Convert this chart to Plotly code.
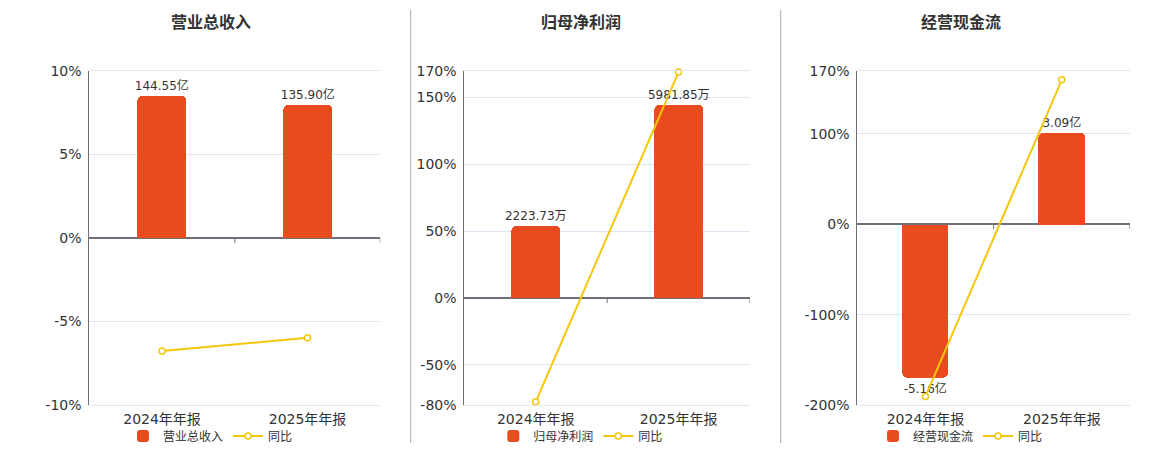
import plotly.graph_objects as go

# data
categories = ["2024年年报", "2025年年报"]

revenue = [144.55, 135.90]
revenue_labels = ["144.55亿", "135.90亿"]
revenue_yoy = [-6.77, -5.98]
revenue_ticks = [-10, -5, 0, 5, 10]
revenue_ticktext = ["-10%", "-5%", "0%", "5%", "10%"]

profit = [2223.73, 5981.85]
profit_labels = ["2223.73万", "5981.85万"]
profit_yoy = [-77.6, 169.0]
profit_ticks = [-80, -50, 0, 50, 100, 150, 170]
profit_ticktext = ["-80%", "-50%", "0%", "50%", "100%", "150%", "170%"]

cashflow = [-5.16, 3.09]
cashflow_labels = ["-5.16亿", "3.09亿"]
cashflow_yoy = [-190.5, 159.9]
cashflow_ticks = [-200, -100, 0, 100, 170]
cashflow_ticktext = ["-200%", "-100%", "0%", "100%", "170%"]

titles = ["营业总收入", "归母净利润", "经营现金流"]

BAR_COLOR = "#E84C1E"
LINE_COLOR = "#F4C70A"
AXIS_COLOR = "#6E7079"
GRID_COLOR = "#E0E6F1"
FONT = "DejaVu Sans, Noto Sans CJK SC, sans-serif"
W, H = 1160, 450
PAGE_OFF = 8  # the page body margin shifts the figure by 8px


def px(x):
    return (x - PAGE_OFF) / W


def py(y):
    return (H - (y - PAGE_OFF)) / H


# panel layout in screen pixels: (left, right) of the plot area, centre for title/legend
panels = [
    dict(name=titles[0], bars=revenue, labels=revenue_labels, yoy=revenue_yoy,
         ticks=revenue_ticks, ticktext=revenue_ticktext,
         yrange=[-10, 10], barrange=[-170, 170], x0=89.3, x1=380.3, cx=210.5),
    dict(name=titles[1], bars=profit, labels=profit_labels, yoy=profit_yoy,
         ticks=profit_ticks, ticktext=profit_ticktext,
         yrange=[-80, 170], barrange=[-3302, 7016], x0=464.3, x1=750, cx=580.8),
    dict(name=titles[2], bars=cashflow, labels=cashflow_labels, yoy=cashflow_yoy,
         ticks=cashflow_ticks, ticktext=cashflow_ticktext,
         yrange=[-200, 170], barrange=[-6.07, 5.16], x0=857.3, x1=1130, cx=960.5),
]

plot_top, plot_bottom = 70.7, 405
ydom = [py(plot_bottom), py(plot_top)]

fig = go.Figure()
layout = dict(
    width=W, height=H,
    margin=dict(l=0, r=0, t=0, b=0, autoexpand=False),
    paper_bgcolor="white", plot_bgcolor="white",
    font=dict(family=FONT, color="#333"),
    bargap=0,
    annotations=[], shapes=[],
)

for i, p in enumerate(panels):
    n = i + 1
    xname = "x" if n == 1 else f"x{n}"
    ybar = f"y{2 * n - 1}" if n > 1 else "y"
    yline = f"y{2 * n}"
    leg = "legend" if n == 1 else f"legend{n}"

    fig.add_trace(go.Bar(
        x=categories, y=p["bars"], name=p["name"],
        xaxis=xname, yaxis=ybar, legend=leg,
        marker=dict(color=BAR_COLOR, cornerradius=5, line=dict(width=0)),
        width=0.34,
        text=p["labels"], textposition="outside", cliponaxis=False,
        constraintext="none",
        textfont=dict(size=12, color="#333", family=FONT),
    ))
    fig.add_trace(go.Scatter(
        x=categories, y=p["yoy"], name="同比",
        xaxis=xname, yaxis=yline, legend=leg,
        mode="lines+markers",
        line=dict(color=LINE_COLOR, width=2),
        marker=dict(symbol="circle", size=6, color="white",
                    line=dict(color=LINE_COLOR, width=1.5)),
        cliponaxis=False,
    ))

    xkey = "xaxis" if n == 1 else f"xaxis{n}"
    ybkey = "yaxis" if n == 1 else f"yaxis{2 * n - 1}"
    ylkey = f"yaxis{2 * n}"

    # x axis line (mirrored) doubles as the top and bottom grid lines
    layout[xkey] = dict(
        domain=[px(p["x0"]), px(p["x1"])], anchor=ybar, type="category",
        range=[-0.5, len(categories) - 0.5],
        showgrid=False, zeroline=False, ticks="", automargin=False,
        showline=True, mirror=True, linecolor=GRID_COLOR, linewidth=1,
        ticklabelstandoff=1,
        tickfont=dict(size=14, color="#333"), fixedrange=True,
    )
    layout[ybkey] = dict(
        domain=ydom, anchor=xname, range=p["barrange"], visible=False,
        showgrid=False, zeroline=False, automargin=False,
    )
    layout[ylkey] = dict(
        domain=ydom, anchor=xname, overlaying=ybar, side="left",
        range=p["yrange"], tickmode="array", tickvals=p["ticks"], ticktext=p["ticktext"],
        showgrid=True, gridcolor=GRID_COLOR, gridwidth=1,
        zeroline=True, zerolinecolor=AXIS_COLOR, zerolinewidth=2,
        showline=True, linecolor=AXIS_COLOR, linewidth=1,
        ticks="", ticklabelstandoff=4, automargin=False,
        tickfont=dict(size=14, color="#333"),
    )

    layout[leg] = dict(
        orientation="h", x=px(p["cx"]), xanchor="center",
        y=py(436), yanchor="middle",
        font=dict(size=12, color="#333"),
        bgcolor="rgba(0,0,0,0)", itemwidth=30, tracegroupgap=0,
    )

    layout["annotations"].append(dict(
        text=f"<b>{p['name']}</b>", x=px(p["cx"]), y=py(23),
        xref="paper", yref="paper", showarrow=False,
        xanchor="center", yanchor="middle",
        font=dict(size=16, color="#333", family=FONT),
    ))

    # small ticks on the zero axis at category boundaries
    for k in range(len(categories)):
        layout["shapes"].append(dict(
            type="line", xref=xname, yref=yline,
            x0=k + 0.5, x1=k + 0.5, ysizemode="pixel", yanchor=0, y0=0, y1=-5,
            line=dict(color=AXIS_COLOR, width=1),
        ))

# separators between panels
for sx in [410.7, 780.7]:
    layout["shapes"].append(dict(
        type="line", xref="paper", yref="paper",
        x0=px(sx), x1=px(sx), y0=py(443), y1=py(10),
        line=dict(color="#AAAAAA", width=1),
    ))

fig.update_layout(**layout)
fig.write_html("out.html")
